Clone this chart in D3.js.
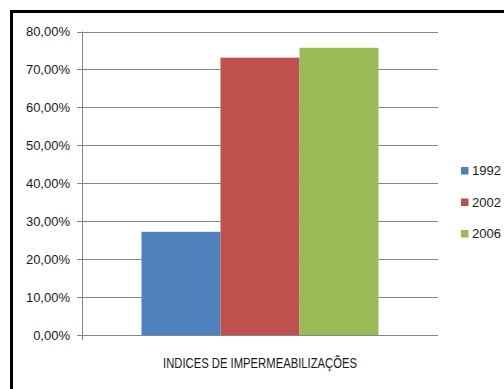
<!DOCTYPE html>
<html><head><meta charset="utf-8">
<script src="https://cdn.jsdelivr.net/npm/d3@7"></script>
<style>body{margin:0;background:#fff}svg{display:block}text{font-family:"Liberation Sans",Arial,sans-serif;fill:#1a1a1a}</style>
</head><body><svg id="c" width="504" height="389"></svg>
<script>
const categories = ["INDICES DE IMPERMEABILIZAÇÕES"];
const seriesNames = ["1992", "2002", "2006"];
const seriesValues = [0.272, 0.731, 0.757];
const colors = ["#4F81BD", "#C0504D", "#9BBB59"];
const yTicks = [0, 0.1, 0.2, 0.3, 0.4, 0.5, 0.6, 0.7, 0.8];

const svg = d3.select("#c");
// frame
svg.append("rect").attr("x", 11.5).attr("y", 11.5).attr("width", 520).attr("height", 400)
  .attr("fill", "none").attr("stroke", "#000").attr("stroke-width", 3);

const x0 = d3.scaleBand().domain(categories).range([82, 438]).paddingInner(0).paddingOuter(0.251);
const x1 = d3.scaleBand().domain(seriesNames).range([0, x0.bandwidth()]).padding(0);
const y = d3.scaleLinear().domain([0, 0.8]).range([335, 31.5]);

const fmt = v => d3.format(".2f")(v * 100).replace(".", ",") + "%";

// gridlines
svg.append("g").selectAll("line").data(yTicks).join("line")
  .attr("x1", 77).attr("x2", 438)
  .attr("y1", d => Math.round(y(d)) + 0.5).attr("y2", d => Math.round(y(d)) + 0.5)
  .attr("stroke", "#868686").attr("stroke-width", 1);
// y axis line
svg.append("line").attr("x1", 82.5).attr("x2", 82.5).attr("y1", y(0.8)).attr("y2", 340)
  .attr("stroke", "#868686");
// tick labels
svg.append("g").selectAll("text").data(yTicks).join("text")
  .attr("x", 70).attr("y", d => y(d)).attr("dy", "0.35em").attr("text-anchor", "end")
  .attr("font-size", 13).text(fmt);

// bars
const g = svg.append("g").attr("transform", `translate(${x0(categories[0])},0)`);
g.selectAll("rect").data(seriesNames).join("rect")
  .attr("x", d => x1(d)).attr("width", x1.bandwidth())
  .attr("y", (d, i) => y(seriesValues[i])).attr("height", (d, i) => y(0) - y(seriesValues[i]))
  .attr("fill", (d, i) => colors[i]);

// x label
svg.append("text").attr("x", x0(categories[0]) + x0.bandwidth() / 2).attr("y", 363).attr("dy", "0.35em")
  .attr("text-anchor", "middle").attr("font-size", 14)
  .attr("textLength", 194).attr("lengthAdjust", "spacingAndGlyphs").text(categories[0]);

// legend
const lg = svg.append("g").selectAll("g").data(seriesNames).join("g")
  .attr("transform", (d, i) => `translate(461,${170.5 + i * 31.5})`);
lg.append("rect").attr("x", 0).attr("y", -3.5).attr("width", 7.5).attr("height", 7.5)
  .attr("fill", (d, i) => colors[i]);
lg.append("text").attr("x", 11).attr("y", 0).attr("dy", "0.35em").attr("font-size", 13).text(d => d);
</script></body></html>
